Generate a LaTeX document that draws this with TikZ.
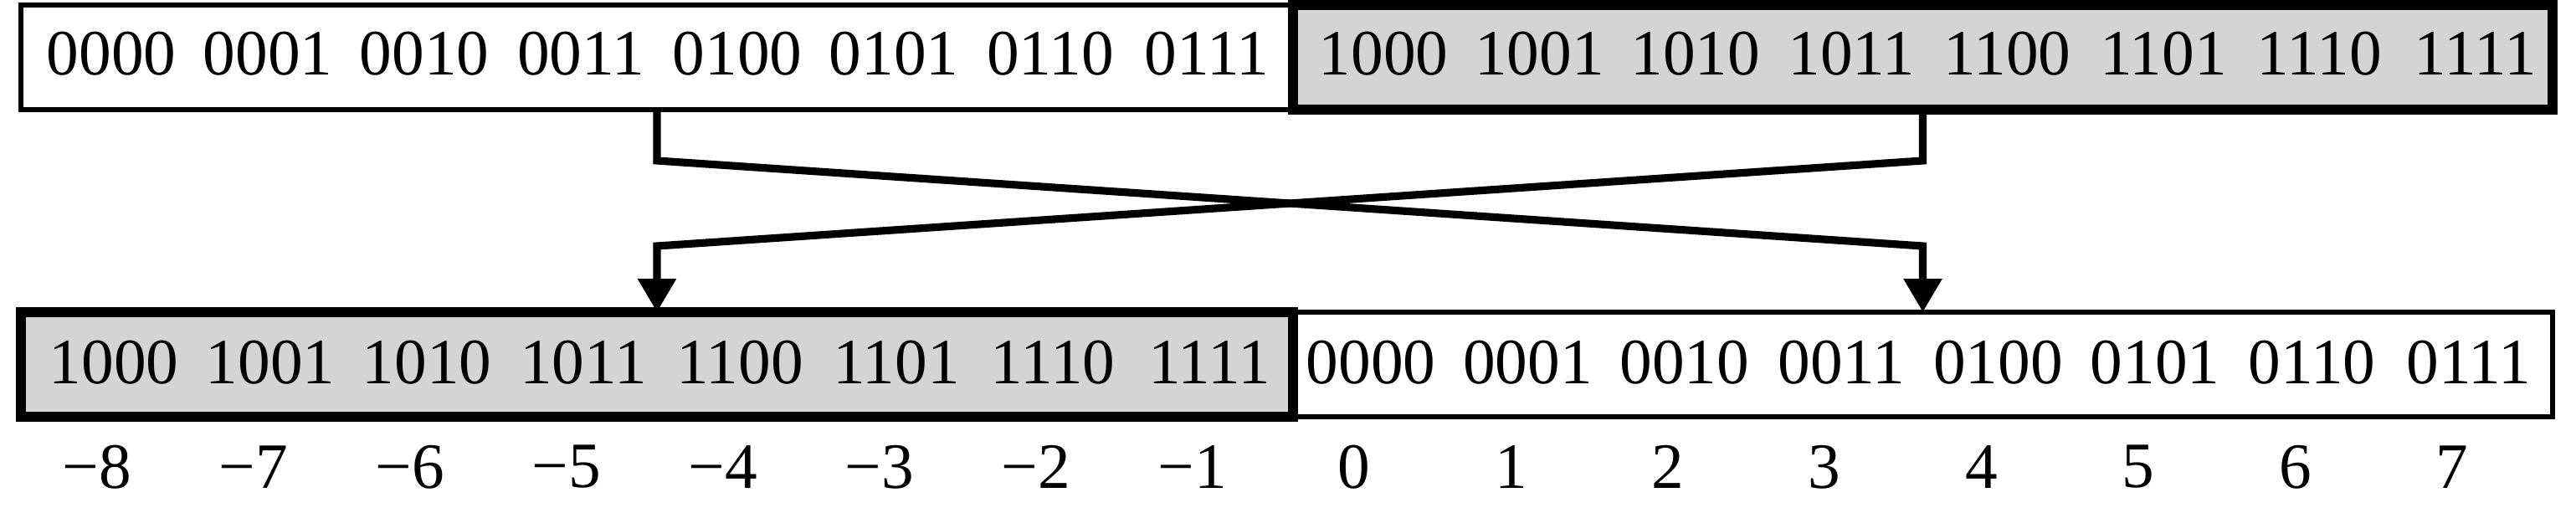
\documentclass[tikz,border=0pt]{standalone}
\usepackage{fontspec}
\setmainfont{Liberation Serif}
\usetikzlibrary{positioning,arrows.meta}

\begin{document}
\begin{tikzpicture}[
  cell/.style={draw, line width=1.5pt, outer sep=0pt, minimum height=1.25cm, fill=white},
  shaded/.style={cell, line width=3.4pt, fill=black!17},
  word/.style={font=\fontsize{22}{26}\selectfont, inner sep=0pt},
  num/.style={word},
  flow/.style={line width=2.6pt, line join=miter, -{Triangle[length=4mm,width=4.4mm]}}
]
  \useasboundingbox (0,0) rectangle (30.78,-6.12);

  \node[cell, minimum width=15.2cm] (topL) at (7.85,-0.685) {};
  \node[shaded, minimum width=15.05cm, right=0pt of topL] (topR) {};
  \node[shaded, minimum width=15.2cm, below=2.42cm of topL] (botL) {};
  \node[cell, minimum width=15.05cm, right=0pt of botL] (botR) {};
  \draw[line width=3.4pt] (topR.north west) rectangle (topR.south east);
  \draw[line width=3.4pt] (botL.north west) rectangle (botL.south east);

  \foreach \w [count=\i] in {0000,0001,0010,0011,0100,0101,0110,0111}
    \node[word] (tw\i) at ({1.33+(\i-1)*1.87},-0.64) {\w};
  \foreach \w [count=\i] in {1000,1001,1010,1011,1100,1101,1110,1111}
    \node[word] (tv\i) at ({16.53+(\i-1)*1.864},-0.64) {\w};
  \foreach \w [count=\i] in {1000,1001,1010,1011,1100,1101,1110,1111}
    \node[word] (bw\i) at ({1.36+(\i-1)*1.87},-4.33) {\w};
  \foreach \w [count=\i] in {0000,0001,0010,0011,0100,0101,0110,0111}
    \node[word] (bv\i) at ({16.38+(\i-1)*1.874},-4.33) {\w};

  \foreach \n [count=\i] in {8,7,6,5,4,3,2,1}
    \node[num] (nl\i) at ([xshift=-2mm,yshift=-12.5mm]bw\i.center) {−\n};
  \foreach \n [count=\i] in {0,1,2,3,4,5,6,7}
    \node[num] (nr\i) at ([xshift=-2mm,yshift=-12.5mm]bv\i.center) {\n};

  \coordinate[below=0.61cm of topL.south] (kinkL);
  \coordinate[below=0.61cm of topR.south] (kinkR);
  \coordinate[above=0.79cm of botL.north] (dropL);
  \coordinate[above=0.79cm of botR.north] (dropR);

  \draw[flow] (topL.south) -- (kinkL) -- (dropR) -- (botR.north);
  \draw[flow] (topR.south) -- (kinkR) -- (dropL) -- (botL.north);
\end{tikzpicture}
\end{document}
